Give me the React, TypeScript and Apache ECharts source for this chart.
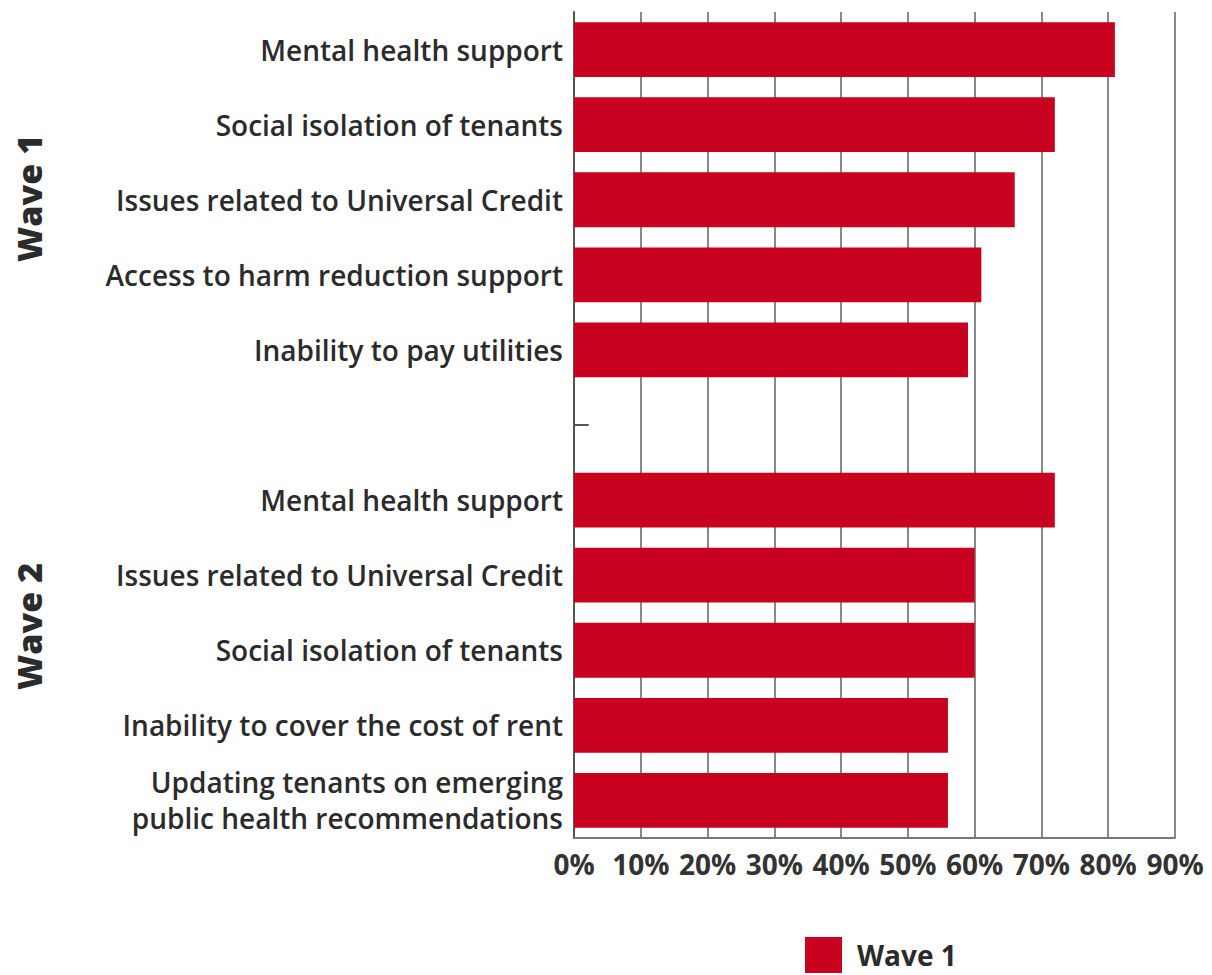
import React, { useEffect, useRef } from "react";
import * as echarts from "echarts";

const categories = [
  "Mental health support",
  "Social isolation of tenants",
  "Issues related to Universal Credit",
  "Access to harm reduction support",
  "Inability to pay utilities",
  "",
  "Mental health support",
  "Issues related to Universal Credit",
  "Social isolation of tenants",
  "Inability to cover the cost of rent",
  "Updating tenants on emerging\npublic health recommendations",
];
const values: (number | null)[] = [81, 72, 66, 61, 59, null, 72, 60, 60, 56, 56];
const xTicks = [0, 10, 20, 30, 40, 50, 60, 70, 80, 90];
const groupLabels = ["Wave 1", "Wave 2"];
const seriesName = "Wave 1";

const FONT = "'Open Sans', Lato, sans-serif";
const RED = "#c8021f";
const TEXT = "#2b2b2b";

export default function App() {
  const ref = useRef<HTMLDivElement>(null);
  useEffect(() => {
    if (!ref.current) return;
    const chart = echarts.init(ref.current, null, { renderer: "svg" });
    const groupText = (text: string, y: number) => ({
      type: "text",
      x: 12,
      y,
      rotation: Math.PI / 2,
      style: {
        text,
        fontSize: 34,
        fontWeight: 800,
        fill: TEXT,
        fontFamily: FONT,
        textVerticalAlign: "top",
        textAlign: "left",
      },
    });
    chart.setOption({
      animation: false,
      textStyle: { fontFamily: FONT },
      grid: { left: 574, top: 12, width: 601, height: 826, containLabel: false },
      legend: {
        data: [seriesName],
        left: 800,
        top: 932,
        padding: [5, 5, 0, 5],
        itemWidth: 37,
        itemHeight: 36,
        icon: "rect",
        textStyle: {
          fontSize: 28,
          lineHeight: 30,
          fontWeight: 700,
          color: TEXT,
          fontFamily: FONT,
          padding: [0, 0, 0, 10],
        },
      },
      xAxis: {
        type: "value",
        min: 0,
        max: xTicks[xTicks.length - 1],
        interval: 10,
        axisLine: { show: true, lineStyle: { color: "#777", width: 2 } },
        axisTick: { show: false },
        splitLine: { show: true, lineStyle: { color: "#888", width: 2 } },
        axisLabel: {
          formatter: (v: number) => v + "%",
          fontSize: 28,
          fontWeight: 700,
          color: "#333",
          margin: 12,
          fontFamily: FONT,
        },
      },
      yAxis: {
        type: "category",
        data: categories,
        inverse: true,
        axisLine: { show: true, lineStyle: { color: "#555", width: 2 } },
        axisTick: { show: false },
        axisLabel: {
          fontSize: 28,
          fontWeight: 600,
          color: TEXT,
          margin: 11,
          lineHeight: 36,
          align: "right",
          fontFamily: FONT,
        },
      },
      graphic: [groupText(groupLabels[0], 262), groupText(groupLabels[1], 690)],
      series: [
        {
          name: seriesName,
          type: "bar",
          data: values,
          barCategoryGap: "27%",
          itemStyle: { color: RED },
          markLine: {
            silent: true,
            symbol: "none",
            label: { show: false },
            lineStyle: { color: "#555", width: 2, type: "solid" },
            data: [[{ coord: [0, 5] }, { coord: [2.2, 5] }]],
          },
        },
      ],
    });
    return () => chart.dispose();
  }, []);
  return (
    <div
      ref={ref}
      style={{ position: "fixed", left: 0, top: 0, width: 1212, height: 975, background: "#fff" }}
    />
  );
}
